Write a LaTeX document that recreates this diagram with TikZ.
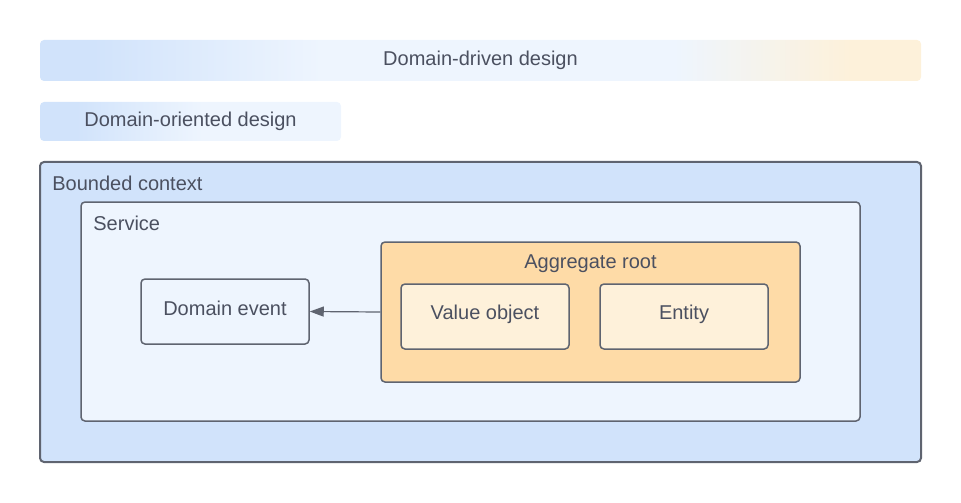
\documentclass[tikz,border=0pt]{standalone}
\usepackage{fontspec}
\setmainfont{Liberation Sans}
\usetikzlibrary{arrows.meta}
\definecolor{txtgray}{HTML}{4B5060}
\definecolor{edgegray}{HTML}{5F6470}
\definecolor{ctxblue}{HTML}{D1E3FB}
\definecolor{svcblue}{HTML}{EEF5FE}
\definecolor{aggorange}{HTML}{FEDBA7}
\definecolor{objcream}{HTML}{FEF1DA}
\definecolor{barcream}{HTML}{FDF1DA}
\pgfdeclarehorizontalshading{dddshade}{100bp}{color(0bp)=(ctxblue); color(28bp)=(ctxblue); color(41bp)=(svcblue); color(61bp)=(svcblue); color(71bp)=(barcream); color(100bp)=(barcream)}
\pgfdeclarehorizontalshading{dodshade}{100bp}{color(0bp)=(ctxblue); color(31bp)=(ctxblue); color(52bp)=(svcblue); color(100bp)=(svcblue)}
\begin{document}
\begin{tikzpicture}[x=0.5pt, y=-0.5pt,
  font=\fontsize{10}{12}\selectfont, text=txtgray,
  bar/.style={rectangle, rounded corners=2pt, inner sep=0pt},
  box/.style={rectangle, rounded corners=2pt, draw=edgegray, line width=0.75pt, inner sep=0pt},
  ctx/.style={box, fill=ctxblue, line width=1pt},
  svc/.style={box, fill=svcblue},
  agg/.style={box, fill=aggorange},
  obj/.style={box, fill=objcream, minimum width=84pt, minimum height=32.5pt, text depth=4pt},
  lbl/.style={inner sep=0pt, anchor=west},
  link/.style={draw=edgegray, line width=0.6pt, -{Triangle[length=7pt, width=5pt]}}]
\useasboundingbox (0,0) rectangle (961,502);
% top bars
\node[bar, shading=dddshade, minimum width=440.5pt, minimum height=20.5pt] (ddd) at (480.5,60.5) {Domain-driven design};
\node[bar, shading=dodshade, minimum width=150.5pt, minimum height=19.5pt] (dod) at (190.5,121.5) {Domain-oriented design};
% bounded context and service
\node[ctx, minimum width=440.5pt, minimum height=150pt] (bc) at (480.5,312) {};
\node[lbl] (bclbl) at (52,183) {Bounded context};
\node[svc, minimum width=389.5pt, minimum height=109.5pt] (svc) at (470.5,311.5) {};
\node[lbl] (svclbl) at (93,223) {Service};
% domain event
\node[svc, minimum width=84pt, minimum height=32.5pt, text depth=3pt] (ev) at (225,311.5) {Domain event};
% aggregate root
\node[agg, minimum width=209.5pt, minimum height=70pt] (agg) at (590.5,312) {};
\node[inner sep=0pt] (agglbl) at (590.5,264) {Aggregate root};
\node[obj] (vo) at (485,316.5) {Value object};
\node[obj] (ent) at (684,316.5) {Entity};
\draw[link] (agg.west) -- (ev.east);
\end{tikzpicture}
\end{document}
